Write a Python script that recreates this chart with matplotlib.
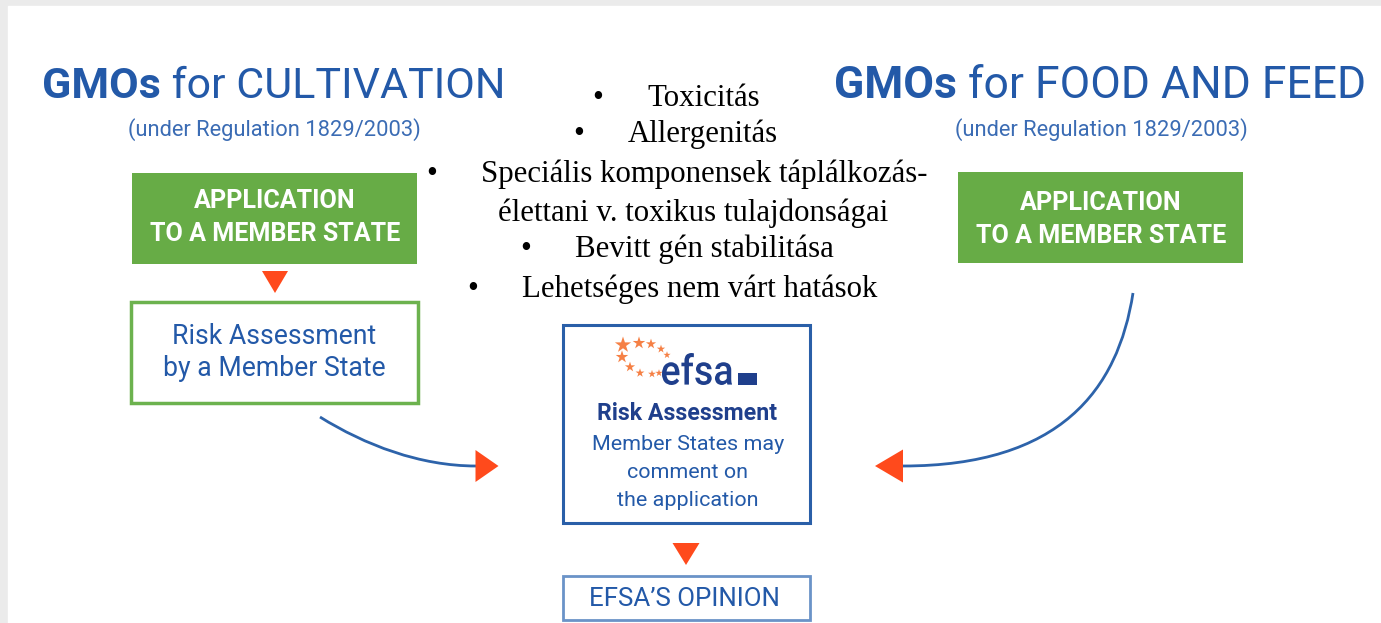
import matplotlib
matplotlib.use('Agg')
import matplotlib.pyplot as plt
from matplotlib.patches import Rectangle, Polygon, PathPatch
from matplotlib.path import Path
from matplotlib.textpath import TextPath
from matplotlib.font_manager import FontProperties
from matplotlib.transforms import Affine2D

# texts of the diagram
left_title = ['GMOs', ' for CULTIVATION']
right_title = ['GMOs', ' for FOOD AND FEED']
regulation = '(under Regulation 1829/2003)'
application = ['APPLICATION', 'TO A MEMBER STATE']
ms_assessment = ['Risk Assessment', 'by a Member State']
efsa_title = 'Risk Assessment'
efsa_lines = ['Member States may', 'comment on', 'the application']
opinion = 'EFSA\u2019S OPINION'
criteria = ['Toxicitás', 'Allergenitás', 'Speciális komponensek táplálkozás-',
            'élettani v. toxikus tulajdonságai', 'Bevitt gén stabilitása',
            'Lehetséges nem várt hatások']
has_bullet = [True, True, True, False, True, True]

# layout (pixels)
crit_x = [647, 628, 481, 498, 575, 522]
crit_y = [106, 142, 182, 221, 257, 297]

SANS = 'Roboto'
SERIF = 'Liberation Serif'
BLUE = '#2359a8'
BLUE2 = '#3b6cb4'
DARK = '#1f3f8c'
GREEN = '#67ac46'
RED = '#ff4a1c'
LINE = '#2d63aa'

W, H = 1381, 623
fig = plt.figure(figsize=(W / 100, H / 100), dpi=100)
fig.patch.set_facecolor('#ebebeb')
ax = fig.add_axes([0, 0, 1, 1])
ax.set_xlim(0, W)
ax.set_ylim(H, 0)
ax.axis('off')
ax.add_patch(Rectangle((8, 6), W - 8, H - 6, color='white', zorder=0))

r = fig.canvas.get_renderer()


def width_of(t):
    return t.get_window_extent(renderer=r).width


def title(x0, x1, yb, parts):
    ts = [ax.text(0, yb, p, fontsize=30, fontweight=w, color=BLUE, family=SANS, va='baseline')
          for p, w in zip(parts, ['bold', 'normal'])]
    k = (x1 - x0) / sum(width_of(t) for t in ts)
    x = x0
    for t in ts:
        t.set_fontsize(30 * k)
        t.set_x(x)
        x += width_of(t)


def block(cx, ys, lines, wmax, **kw):
    ts = [ax.text(cx, y, s, fontsize=20, ha='center', va='center', **kw) for s, y in zip(lines, ys)]
    k = wmax / max(width_of(t) for t in ts)
    for t in ts:
        t.set_fontsize(20 * k)
    return 20 * k


def tri(cx, cy, w, h, d):
    if d == 'down':
        pts = [(cx - w / 2, cy - h / 2), (cx + w / 2, cy - h / 2), (cx, cy + h / 2)]
    elif d == 'right':
        pts = [(cx - w / 2, cy - h / 2), (cx - w / 2, cy + h / 2), (cx + w / 2, cy)]
    else:
        pts = [(cx + w / 2, cy - h / 2), (cx + w / 2, cy + h / 2), (cx - w / 2, cy)]
    ax.add_patch(Polygon(pts, closed=True, color=RED, lw=0))


def curve(pts):
    p = Path(pts, [Path.MOVETO, Path.CURVE4, Path.CURVE4, Path.CURVE4])
    ax.add_patch(PathPatch(p, fc='none', ec=LINE, lw=2))


# titles
title(42, 505, 98, left_title)
title(834, 1365, 98, right_title)
block(274, [130], [regulation], 292, color=BLUE2, family=SANS)
block(1101, [130], [regulation], 292, color=BLUE2, family=SANS)

# application boxes
for x0, y0, dy in [(132, 173, 0), (958, 172, 2)]:
    ax.add_patch(Rectangle((x0, y0), 285, 91, color=GREEN, lw=0))
    block(x0 + 143, [201 + dy, 234 + dy], application, 250, color='white', fontweight='bold', family=SANS)

tri(275, 282, 26, 22, 'down')

# member state assessment
ax.add_patch(Rectangle((131, 302), 287, 101, fc='white', ec='#6cb24e', lw=2.5))
block(274, [336, 368], ms_assessment, 222, color=BLUE, family=SANS)

# arrows into efsa
curve([(320, 417), (365, 445), (420, 466), (476, 466)])
tri(487, 466, 23, 32, 'right')
curve([(1133, 293), (1118, 390), (1060, 466), (903, 466)])
tri(889, 466, 28, 33, 'left')

# efsa box with logo
ax.add_patch(Rectangle((563, 325), 247, 198, fc='white', ec='#2a5fa8', lw=2.2))
star_x = [623, 639, 651, 661, 667, 622, 630, 640, 652, 659]
star_y = [345, 343, 344, 349, 355, 357, 367, 373, 374, 373]
star_s = [150, 90, 60, 40, 30, 90, 60, 45, 35, 30]
ax.scatter(star_x, star_y, s=star_s, marker='*', color='#f46a24', lw=0, alpha=0.85)
tp = TextPath((0, 0), 'efsa', size=40, prop=FontProperties(family=SANS, weight='medium'))
ext = tp.get_extents()
tf = Affine2D().translate(-ext.x0, -ext.y0).scale(70 / ext.width, -32 / ext.height).translate(662, 385)
ax.add_patch(PathPatch(tp, transform=tf + ax.transData, color=DARK, lw=0))
ax.add_patch(Rectangle((738, 373), 19, 12, color=DARK, lw=0))
block(687, [414], [efsa_title], 179, color=DARK, family=SANS, fontweight='bold')
block(688, [444, 472, 500], efsa_lines, 191, color=BLUE, family=SANS)

tri(686, 554, 27, 22, 'down')
ax.add_patch(Rectangle((563, 576), 247, 44, fc='white', ec='#6a93c8', lw=2))
block(684, [599], [opinion], 192, color=BLUE, family=SANS)

# criteria list
ref = ax.text(0, 0, criteria[5], fontsize=20, family=SERIF)
fs = 20 * 356 / width_of(ref)
ref.remove()
for s, x, y, b in zip(criteria, crit_x, crit_y, has_bullet):
    ax.text(x, y, s, fontsize=fs, family=SERIF, va='baseline', color='black')
    if b:
        ax.text(x - 55, y, '\u2022', fontsize=fs, family=SERIF, va='baseline', color='black')

fig.savefig('out.png', dpi=100)
